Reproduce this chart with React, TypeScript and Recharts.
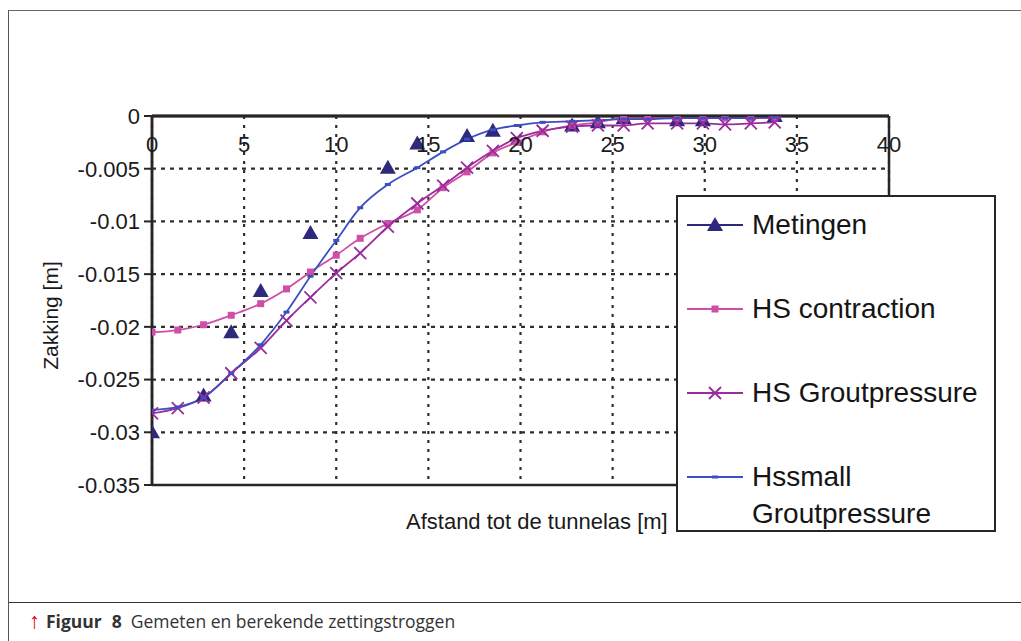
import React from 'react';
import {
  ComposedChart,
  Line,
  Scatter,
  XAxis,
  YAxis,
  CartesianGrid,
  ReferenceLine,
  Legend,
} from 'recharts';

// afstand tot de tunnelas [m], gedeeld door de berekende reeksen
const AFSTAND = [
  0, 1.4, 2.8, 4.3, 5.9, 7.3, 8.6, 10.0, 11.3, 12.8, 14.4, 15.8, 17.1, 18.5, 19.8, 21.2,
  22.8, 24.2, 25.6, 26.9, 28.5, 29.9, 31.1, 32.5, 33.8,
];

const HS_CONTRACTION = [
  -0.0205, -0.0203, -0.0198, -0.0189, -0.0178, -0.0164, -0.0148, -0.0132, -0.0116, -0.0102,
  -0.0089, -0.0068, -0.0053, -0.0035, -0.0025, -0.0015, -0.0009, -0.0006, -0.0002, -0.0002,
  -0.0002, -0.0002, -0.0002, -0.0002, -0.0002,
];

const HS_GROUTPRESSURE = [
  -0.0282, -0.0277, -0.0267, -0.0244, -0.022, -0.0194, -0.0172, -0.0149, -0.013, -0.0105,
  -0.0083, -0.0066, -0.0049, -0.0033, -0.0021, -0.0014, -0.001, -0.0009, -0.0009, -0.0007,
  -0.0007, -0.0007, -0.0008, -0.0007, -0.0006,
];

const HSSMALL_GROUTPRESSURE = [
  -0.0279, -0.0276, -0.0267, -0.0244, -0.0217, -0.0186, -0.0152, -0.0118, -0.0087, -0.0065,
  -0.0049, -0.0034, -0.0022, -0.0013, -0.0009, -0.0006, -0.0005, -0.0004, -0.0003, -0.0003,
  -0.0002, -0.0002, -0.0002, -0.0002, -0.0001,
];

// metingen
const METINGEN_X = [0, 2.8, 4.3, 5.9, 8.6, 12.8, 14.4, 17.1, 18.5, 22.8, 24.2, 25.6, 28.5, 29.9, 33.8];
const METINGEN_Y = [
  -0.03, -0.0265, -0.0205, -0.0166, -0.0111, -0.0049, -0.0026, -0.0019, -0.0014, -0.0009,
  -0.0006, -0.0002, -0.0004, -0.0004, 0,
];

const X_TICKS = [0, 5, 10, 15, 20, 25, 30, 35, 40];
const Y_TICKS = [0, -0.005, -0.01, -0.015, -0.02, -0.025, -0.03, -0.035];

const NAVY = '#2d2a7e';
const PINK = '#cf4fa6';
const PURPLE = '#9b2c9c';
const BLUE = '#3b4fc4';
const AXIS = '#2b2424';
const FONT = '"Liberation Sans", Arial, sans-serif';

const toPoints = (xs: number[], ys: number[]) => xs.map((x, i) => ({ x, y: ys[i] }));

const contraction = toPoints(AFSTAND, HS_CONTRACTION);
const grout = toPoints(AFSTAND, HS_GROUTPRESSURE);
const hssmall = toPoints(AFSTAND, HSSMALL_GROUTPRESSURE);
const metingen = toPoints(METINGEN_X, METINGEN_Y);

const square = (cx: number, cy: number, key?: any) => (
  <rect key={key} x={cx - 3.5} y={cy - 3.5} width={7} height={7} fill={PINK} />
);
const cross = (cx: number, cy: number, key?: any) => (
  <path
    key={key}
    d={`M${cx - 6},${cy - 6}L${cx + 6},${cy + 6}M${cx - 6},${cy + 6}L${cx + 6},${cy - 6}`}
    stroke={PURPLE}
    strokeWidth={1.8}
    fill="none"
  />
);
const dash = (cx: number, cy: number, key?: any) => (
  <rect key={key} x={cx - 3} y={cy - 1.5} width={6} height={3} fill={BLUE} />
);
const triangle = (cx: number, cy: number, key?: any) => (
  <path key={key} d={`M${cx},${cy - 8}L${cx + 8},${cy + 6}L${cx - 8},${cy + 6}Z`} fill={NAVY} />
);

const LEGEND_ITEMS = [
  { name: ['Metingen'], color: NAVY, marker: triangle },
  { name: ['HS contraction'], color: PINK, marker: square },
  { name: ['HS Groutpressure'], color: PURPLE, marker: cross },
  { name: ['Hssmall', 'Groutpressure'], color: BLUE, marker: dash },
];

function LegendBox() {
  return (
    <div
      style={{
        position: 'relative',
        width: 320,
        height: 337,
        boxSizing: 'border-box',
        border: `2px solid ${AXIS}`,
        background: '#fff',
        fontFamily: FONT,
        fontSize: 28,
        color: '#151515',
      }}
    >
      {LEGEND_ITEMS.map((it, i) => (
        <div key={i} style={{ position: 'absolute', left: 8, top: 10 + i * 84 }}>
          <svg width={58} height={36} style={{ position: 'absolute', left: 0, top: 0 }}>
            <line x1={1} y1={18} x2={57} y2={18} stroke={it.color} strokeWidth={1.8} />
            {it.marker(29, 18)}
          </svg>
          <div style={{ position: 'absolute', left: 66, top: 0, whiteSpace: 'nowrap' }}>
            {it.name.map((n, j) => (
              <div key={j} style={{ lineHeight: j === 0 ? '36px' : '38px' }}>
                {n}
              </div>
            ))}
          </div>
        </div>
      ))}
    </div>
  );
}

const XTick = (props: any) => {
  const { x, y, payload } = props;
  return (
    <text x={x} y={y + 36} textAnchor="middle" fontSize={22} fontFamily={FONT} fill="#1a1a1a">
      {payload.value}
    </text>
  );
};

const YTitle = (props: any) => {
  const vb = props.viewBox || { x: 82, y: 116, width: 70, height: 369 };
  const cy = vb.y + vb.height / 2 + 15;
  return (
    <text
      transform={`translate(58, ${cy}) rotate(-90)`}
      textAnchor="middle"
      fontSize={21}
      fontFamily={FONT}
      fill="#1a1a1a"
    >
      Zakking [m]
    </text>
  );
};

export default function App() {
  return (
    <div style={{ position: 'absolute', left: 0, top: 0, width: 1021, height: 641, background: '#fff' }}>
      {/* kader */}
      <div style={{ position: 'absolute', left: 8, top: 10, width: 1013, height: 0, borderTop: '1.5px solid #666' }} />
      <div style={{ position: 'absolute', left: 8, top: 10, width: 0, height: 631, borderLeft: '1.5px solid #555' }} />
      <div style={{ position: 'absolute', left: 9, top: 602, width: 1012, height: 0, borderTop: '1.5px solid #333' }} />

      <div style={{ position: 'absolute', left: 0, top: 0 }}>
        <ComposedChart
          width={1021}
          height={600}
          margin={{ top: 86, right: 132, bottom: 115, left: 82 }}
        >
          <CartesianGrid
            horizontal
            vertical={false}
            stroke="#2e2e2e"
            strokeWidth={2.2}
            strokeDasharray="4 5"
          />
          <CartesianGrid
            horizontal={false}
            vertical
            stroke="#2e2e2e"
            strokeWidth={2.2}
            strokeDasharray="3 6"
          />
          <XAxis
            type="number"
            dataKey="x"
            orientation="top"
            domain={[0, 40]}
            ticks={X_TICKS}
            height={30}
            tickSize={0}
            tickMargin={0}
            tick={<XTick />}
            axisLine={{ stroke: AXIS, strokeWidth: 2.5 }}
            allowDataOverflow
          />
          <YAxis
            type="number"
            dataKey="y"
            domain={[-0.035, 0]}
            ticks={Y_TICKS}
            width={70}
            tickSize={8}
            tickMargin={4}
            tick={{ fontSize: 22, fontFamily: FONT, fill: '#1a1a1a' }}
            tickLine={{ stroke: AXIS, strokeWidth: 2 }}
            axisLine={{ stroke: AXIS, strokeWidth: 2.5 }}
            allowDataOverflow
            label={<YTitle />}
          />
          {/* kader rond het plotvlak */}
          <ReferenceLine y={0} stroke={AXIS} strokeWidth={2.8} />
          <ReferenceLine y={-0.035} stroke={AXIS} strokeWidth={2.5} />
          <ReferenceLine x={0} stroke={AXIS} strokeWidth={2.5} />
          <ReferenceLine x={40} stroke={AXIS} strokeWidth={2.5} />

          <Line
            data={contraction}
            dataKey="y"
            name="HS contraction"
            type="monotone"
            stroke={PINK}
            strokeWidth={1.8}
            dot={(p: any) => square(p.cx, p.cy, p.index)}
            isAnimationActive={false}
          />
          <Line
            data={grout}
            dataKey="y"
            name="HS Groutpressure"
            type="monotone"
            stroke={PURPLE}
            strokeWidth={1.8}
            dot={(p: any) => cross(p.cx, p.cy, p.index)}
            isAnimationActive={false}
          />
          <Line
            data={hssmall}
            dataKey="y"
            name="Hssmall Groutpressure"
            type="monotone"
            stroke={BLUE}
            strokeWidth={1.8}
            dot={(p: any) => dash(p.cx, p.cy, p.index)}
            isAnimationActive={false}
          />
          <Scatter
            data={metingen}
            dataKey="y"
            name="Metingen"
            shape={(p: any) => triangle(p.cx, p.cy)}
            isAnimationActive={false}
          />
          <Legend
            layout="vertical"
            align="center"
            verticalAlign="middle"
            content={() => <LegendBox />}
            wrapperStyle={{ position: 'absolute', left: 676, top: 195, width: 320, height: 337 }}
          />
        </ComposedChart>
      </div>

      <div
        style={{
          position: 'absolute',
          left: 406,
          top: 509,
          fontFamily: FONT,
          fontSize: 22,
          color: '#1a1a1a',
          whiteSpace: 'nowrap',
        }}
      >
        Afstand tot de tunnelas [m]
      </div>

      <div
        style={{
          position: 'absolute',
          left: 29,
          top: 609,
          fontFamily: '"Open Sans", sans-serif',
          fontSize: 17.5,
          color: '#333',
          whiteSpace: 'nowrap',
        }}
      >
        <span style={{ color: '#e3001b', fontWeight: 700, fontSize: 22, lineHeight: '20px' }}>↑</span>
        <span style={{ fontWeight: 700, marginLeft: 6 }}>Figuur</span>
        <span style={{ fontWeight: 700, marginLeft: 10 }}>8</span>
        <span style={{ marginLeft: 9 }}>Gemeten en berekende zettingstroggen</span>
      </div>
    </div>
  );
}
